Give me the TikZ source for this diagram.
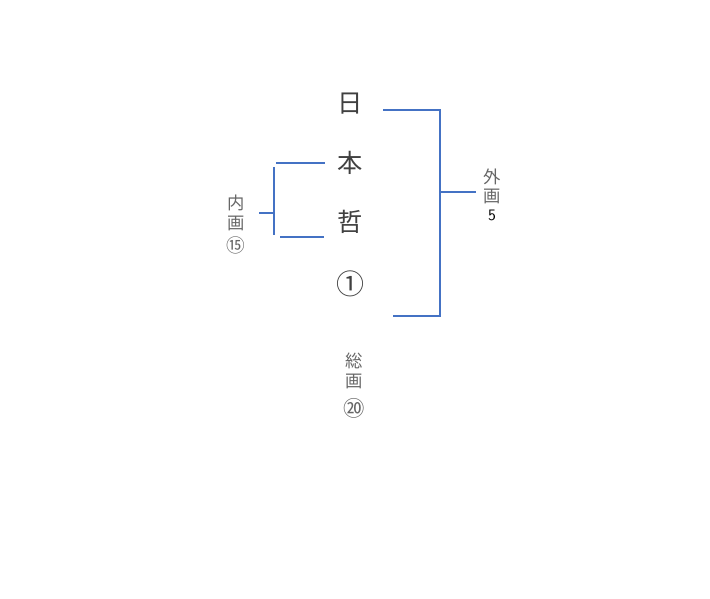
\documentclass[tikz,border=0pt]{standalone}
\usepackage{fontspec}
\newfontfamily\cjk{Noto Sans CJK JP}
\begin{document}
\begin{tikzpicture}[x=0.75pt,y=-0.75pt,
  br/.style={line width=1.3pt, color={rgb,255:red,68;green,114;blue,196}},
  big/.style={font=\cjk\fontsize{19}{19}\selectfont, text=black!75, inner sep=0pt},
  small/.style={font=\cjk\fontsize{13}{13}\selectfont, text=black!60, inner sep=0pt},
  circ/.style={font=\cjk\fontsize{14}{14}\selectfont, text=black!60, inner sep=0pt}]
\useasboundingbox (0,0) rectangle (710,599);
\node[big] (c1) at (350,104) {日};
\node[big] (c2) at (350,163) {本};
\node[big] (c3) at (350,222) {哲};
\node[big,font=\cjk\fontsize{21}{21}\selectfont] (c4) at (350,284) {①};
% outer bracket
\coordinate (o1) at (383,110);
\coordinate (o2) at (440,110);
\coordinate (o3) at (440,316);
\coordinate (o4) at (393,316);
\coordinate (om) at (440,192);
\coordinate (ot) at (476,192);
\draw[br] (o1) -- (o2) -- (o3) -- (o4);
\draw[br] (om) -- (ot);
% inner bracket
\coordinate (i1) at (276,163);
\coordinate (i2) at (325,163);
\coordinate (i3) at (280,237);
\coordinate (i4) at (324,237);
\coordinate (iv1) at (274,167);
\coordinate (iv2) at (274,235);
\coordinate (im) at (274,213);
\coordinate (it) at (259,213);
\draw[br] (i1) -- (i2);
\draw[br] (i3) -- (i4);
\draw[br] (iv1) -- (iv2);
\draw[br] (im) -- (it);
% labels
\node[small] (g1) at (492,177) {外};
\node[small] (g2) at (492,196) {画};
\node[font=\sffamily\fontsize{12}{12}\selectfont, text=black, inner sep=0pt] (g3) at (492,215) {5};
\node[small] (n1) at (236,203) {内};
\node[small] (n2) at (236,223) {画};
\node[circ] (n3) at (236,245) {⑮};
\node[small] (s1) at (354,361) {総};
\node[small] (s2) at (354,381) {画};
\node[circ,font=\cjk\fontsize{16}{16}\selectfont] (s3) at (354,408) {⑳};
\end{tikzpicture}
\end{document}
